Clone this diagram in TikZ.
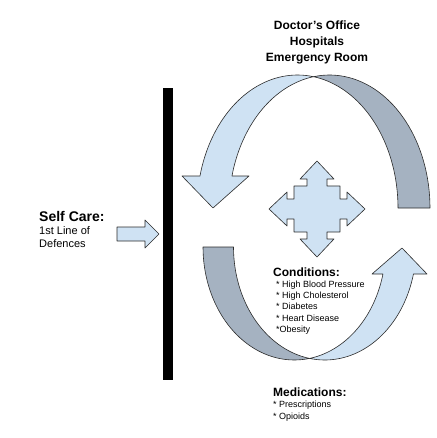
\documentclass[tikz,border=0pt]{standalone}
\usepackage{fontspec}
\setmainfont{Liberation Sans}
\usepackage{xcolor}
\usepackage{tikz}
\definecolor{lightBlue}{HTML}{CFE2F3}
\definecolor{darkBlue}{HTML}{A5B2C1}
\definecolor{lineColor}{HTML}{2B2B2B}

\begin{document}
\begin{tikzpicture}[x=1pt,y=1pt,
lightArrow/.style={fill=lightBlue,draw=lineColor,line width=0.6pt,line join=round},
darkArrow/.style={fill=darkBlue,draw=lineColor,line width=0.6pt,line join=round},
titleLine/.style={font=\bfseries\fontsize{12}{14}\selectfont,anchor=base,inner sep=0},
heading/.style={font=\bfseries\fontsize{12}{14}\selectfont,anchor=base west,inner sep=0},
bigHeading/.style={font=\bfseries\fontsize{14}{16}\selectfont,anchor=base west,inner sep=0},
item/.style={font=\fontsize{9}{11}\selectfont,anchor=base west,inner sep=0},
note/.style={font=\fontsize{11}{13}\selectfont,anchor=base west,inner sep=0}
]
\useasboundingbox (0,0) rectangle (436,-438);
% wall
\fill[black] (163,-88) rectangle (173,-380);
% upper loop: two equal ellipses, centres (297.5,-208) and (329.5,-208)
\draw[darkArrow] plot[domain=99.2:0,samples=40,variable=\t] ({329.5+100.5*cos(\t)},{-208+133*sin(\t)})
  -- plot[domain=0:80.8,samples=40,variable=\t] ({297.5+100.5*cos(\t)},{-208+133*sin(\t)}) -- cycle;
\draw[lightArrow] plot[domain=166.08:80.8,samples=40,variable=\t] ({297.5+100.5*cos(\t)},{-208+133*sin(\t)})
  -- plot[domain=99.2:166.08,samples=40,variable=\t] ({329.5+100.5*cos(\t)},{-208+133*sin(\t)})
  -- (249,-176) -- (213,-208) -- (182,-176) -- cycle;
% lower loop: centres (294.3,-247) and (324.8,-247)
\draw[darkArrow] plot[domain=180:279.6,samples=40,variable=\t] ({294.3+91.3*cos(\t)},{-247+113*sin(\t)})
  -- plot[domain=260.4:180,samples=40,variable=\t] ({324.8+91.3*cos(\t)},{-247+113*sin(\t)}) -- cycle;
\draw[lightArrow] plot[domain=260.4:346.17,samples=40,variable=\t] ({324.8+91.3*cos(\t)},{-247+113*sin(\t)})
  -- (427,-274) -- (402,-248) -- (372,-274)
  -- plot[domain=346.17:279.6,samples=40,variable=\t] ({294.3+91.3*cos(\t)},{-247+113*sin(\t)}) -- cycle;
% four way arrow
\draw[lightArrow,shift={(317,-209)}] (0,48) -- (17,30) -- (10,30) -- (10,23) -- (23,23) -- (23,10)
  -- (30,10) -- (30,17) -- (48,0) -- (30,-17) -- (30,-10) -- (23,-10) -- (23,-23) -- (10,-23)
  -- (10,-30) -- (17,-30) -- (0,-48) -- (-17,-30) -- (-10,-30) -- (-10,-23) -- (-23,-23) -- (-23,-10)
  -- (-30,-10) -- (-30,-17) -- (-48,0) -- (-30,17) -- (-30,10) -- (-23,10) -- (-23,23) -- (-10,23)
  -- (-10,30) -- (-17,30) -- cycle;
% self care arrow
\draw[lightArrow] (117,-227) -- (145,-227) -- (145,-220) -- (159,-234) -- (145,-248)
  -- (145,-241) -- (117,-241) -- cycle;
% texts
\foreach \txt [count=\i] in {Doctor's Office,Hospitals,Emergency Room}
  \node[titleLine] (title\i) at (317,-13.6-16*\i) {\txt};
\node[bigHeading] (selfCare) at (39,-221) {Self Care:};
\node[note] (lineA) at (39,-234) {1st Line of};
\node[note] (lineB) at (39,-247) {Defences};
\node[heading] (conditions) at (273,-276) {Conditions:};
\foreach \txt [count=\i] in {* High Blood Pressure,* High Cholesterol,* Diabetes,* Heart Disease,*Obesity}
  \node[item] (cond\i) at (276,-276-11.25*\i) {\txt};
\node[heading] (medications) at (273,-396) {Medications:};
\foreach \txt [count=\i] in {* Prescriptions,* Opioids}
  \node[item] (med\i) at (273,-396-11.6*\i) {\txt};
\end{tikzpicture}
\end{document}
